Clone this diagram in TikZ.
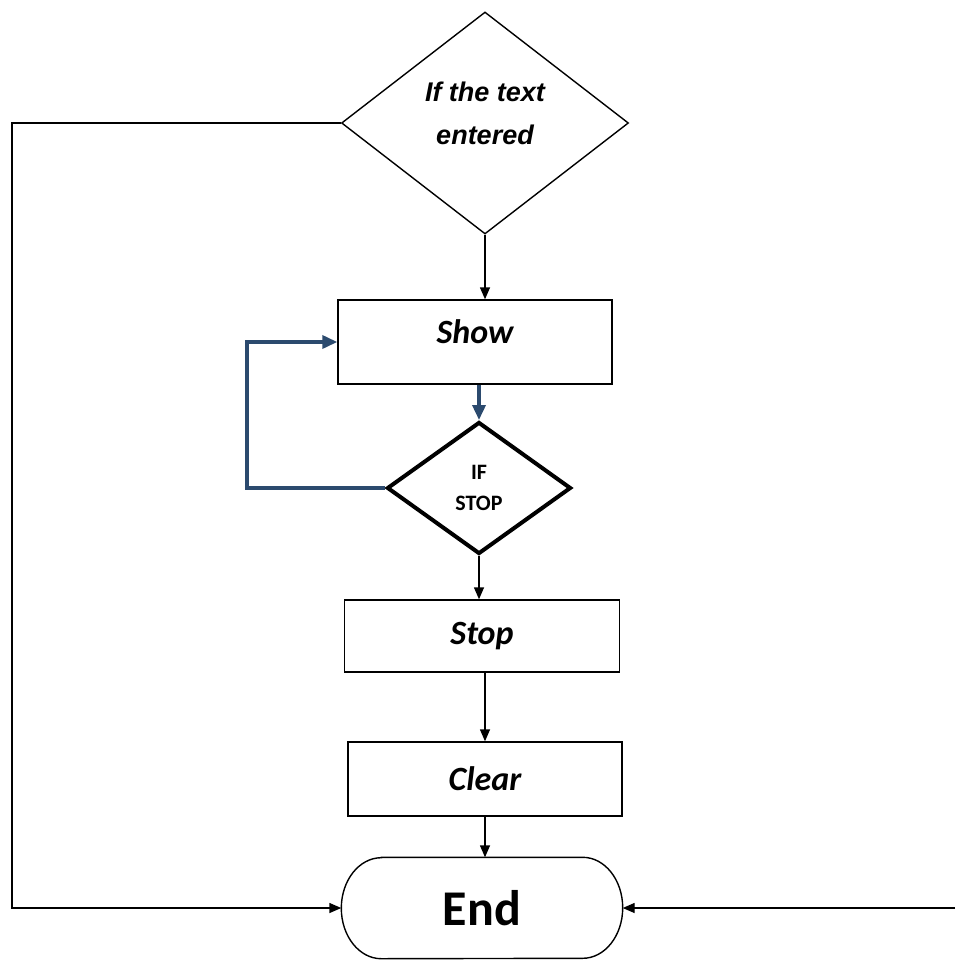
\documentclass[tikz,border=0pt]{standalone}
\usepackage{fontspec}
\usetikzlibrary{shapes.geometric, arrows.meta}

\newfontfamily\arialFont{Liberation Sans}
\newfontfamily\calibriFont{Carlito}

\begin{document}
\begin{tikzpicture}[x=1pt, y=1pt,
    processBox/.style={draw=borderColour, line width=1.4pt, inner sep=0pt},
    boxText/.style={font={\calibriFont\bfseries\itshape\fontsize{34}{40}\selectfont}},
    flowArrow/.style={draw=borderColour, line width=1.4pt, -{Triangle[length=12pt, width=10pt]}},
    loopArrow/.style={draw=loopColour, line width=3.5pt, -{Triangle[length=15pt, width=13pt]}}]

    % Define colours
    \definecolor{borderColour}{HTML}{000000}
    \definecolor{loopColour}{HTML}{2B4A6E}

    % Fix the canvas
    \useasboundingbox (0,0) rectangle (955,-960);

    % Draw the decision on the text
    \node[diamond, processBox, minimum width=287pt, minimum height=222pt, aspect=1.29,
          align=center, text depth=20pt,
          font={\arialFont\bfseries\itshape\fontsize{27}{43}\selectfont}]
          (textCheck) at (485,-123) {If the text\\entered};

    % Draw the process boxes
    \node[processBox, boxText, minimum width=274pt, minimum height=84pt, text depth=20pt]
          (show) at (475,-342) {Show};
    \node[diamond, processBox, line width=4pt, minimum width=184pt, minimum height=132pt,
          aspect=1.39, align=center,
          font={\calibriFont\bfseries\fontsize{22}{31}\selectfont}]
          (stopCheck) at (479,-488) {IF\\STOP};
    \node[processBox, boxText, minimum width=275pt, minimum height=72pt]
          (stop) at (482,-636) {Stop};
    \node[processBox, boxText, minimum width=274pt, minimum height=74pt]
          (clear) at (485,-779) {Clear};

    % Draw the end terminal
    \node[minimum width=281pt, minimum height=101pt, inner sep=0pt,
          font={\calibriFont\bfseries\fontsize{50}{60}\selectfont}]
          (End) at (482,-908) {End};
    \draw[borderColour, line width=1.4pt]
        ([xshift=40pt]End.north west) -- ([xshift=-40pt]End.north east)
        arc[start angle=90, end angle=-90, x radius=40pt, y radius=50.5pt]
        -- ([xshift=40pt]End.south west)
        arc[start angle=270, end angle=90, x radius=40pt, y radius=50.5pt] -- cycle;

    % Define the free corners
    \coordinate (leftRail) at (12,-123);
    \coordinate (loopCorner) at (247,-488);
    \coordinate (rightIn) at (955,-908);

    % Draw the connectors
    \draw[flowArrow] (textCheck.south) -- (textCheck.south |- show.north);
    \draw[loopArrow] (stopCheck.north |- show.south) -- (stopCheck.north);
    \draw[loopArrow] (stopCheck.west) -- (loopCorner) |- (show.west);
    \draw[flowArrow] (stopCheck.south) -- (stopCheck.south |- stop.north);
    \draw[flowArrow] (clear.north |- stop.south) -- (clear.north);
    \draw[flowArrow] (clear.south) -- (clear.south |- End.north);
    \draw[flowArrow] (textCheck.west) -- (leftRail) |- (End.west);
    \draw[flowArrow] (rightIn) -- (End.east);

\end{tikzpicture}
\end{document}
